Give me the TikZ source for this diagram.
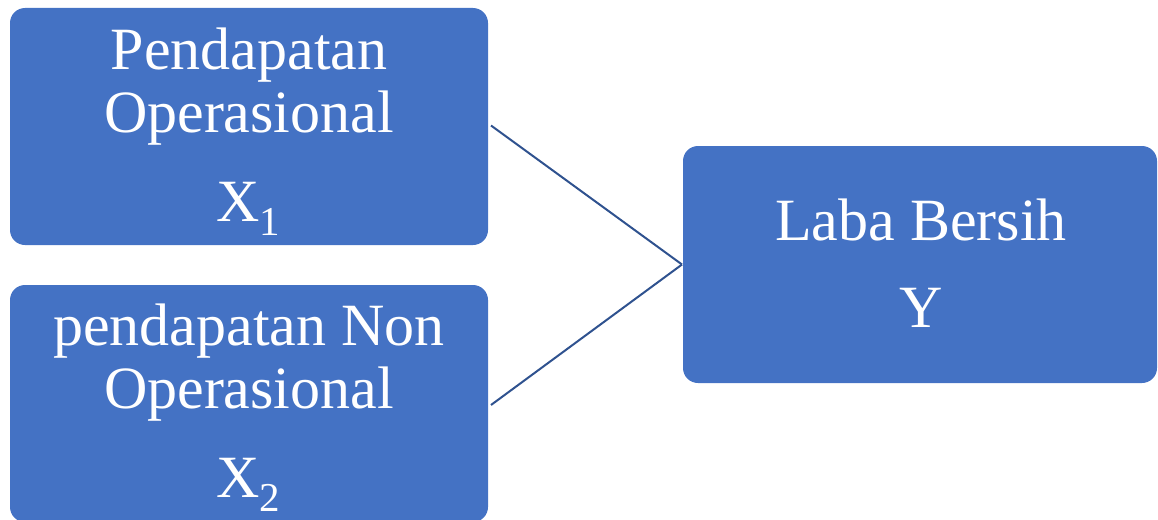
\documentclass[tikz,border=0pt]{standalone}
\usepackage{fontspec}
\setmainfont{Liberation Serif}
\definecolor{boxblue}{HTML}{4472C4}
\definecolor{linkblue}{HTML}{2F528F}
\newcommand{\subnum}[1]{\raisebox{-14pt}{\fontsize{41}{41}\selectfont #1}}
\begin{document}
\begin{tikzpicture}[x=1pt,y=-1pt,
  box/.style={draw=none,fill=boxblue,rounded corners=15pt,inner sep=0pt,outer sep=0pt,
    minimum width=#1},
  box/.default=478pt,
  lbl/.style={text=white,anchor=base,inner sep=0pt,font=\fontsize{60}{62}\selectfont},
  link/.style={draw=linkblue,line width=2pt}]
\useasboundingbox (0,0) rectangle (1158,519);
\node[box,minimum height=237pt] (x1) at (249,126.5) {};
\node[box,minimum height=237pt] (x2) at (249,403.5) {};
\node[box=474pt,minimum height=237pt] (y) at (920,264.5) {};
% texts
\node[lbl] (t1a) at (249,70) {Pendapatan};
\node[lbl] (t1b) at (249,132) {Operasional};
\node[lbl] (t1c) at (248,221) {X\subnum{1}};
\node[lbl] (t2a) at (249,345) {pendapatan Non};
\node[lbl] (t2b) at (249,408) {Operasional};
\node[lbl] (t2c) at (248,497) {X\subnum{2}};
\node[lbl] (t3a) at (921,240) {Laba Bersih};
\node[lbl] (t3b) at (921,327) {Y};
% connectors
\draw[link] ([xshift=3pt,yshift=1pt]x1.east) -- ([xshift=-1pt]y.west);
\draw[link] ([xshift=3pt,yshift=-1.5pt]x2.east) -- ([xshift=-1pt]y.west);
\end{tikzpicture}
\end{document}
